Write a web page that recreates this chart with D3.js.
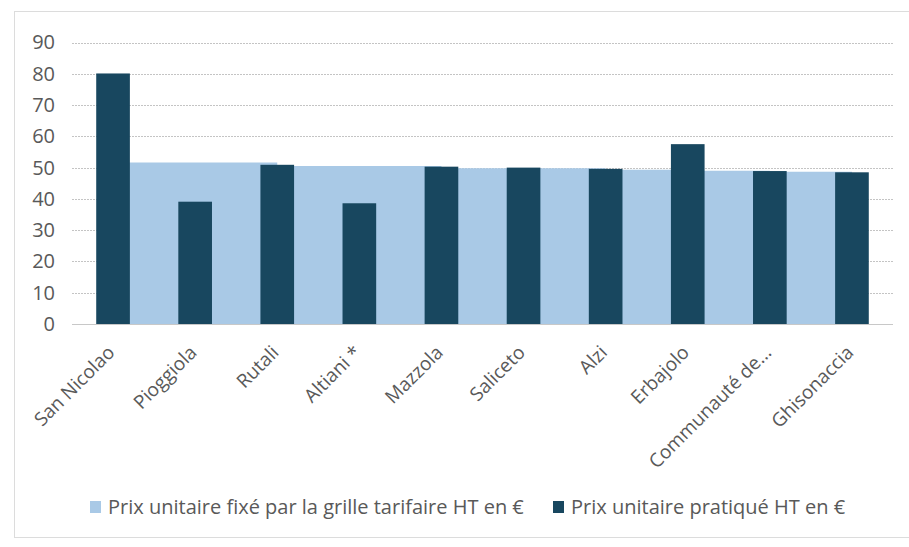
<!DOCTYPE html>
<html>
<head>
<meta charset="utf-8">
<script src="https://cdn.jsdelivr.net/npm/d3@7"></script>
<style>
  html, body { margin: 0; padding: 0; background: #fff; }
  svg { display: block; }
  text { font-family: "Open Sans", Lato, sans-serif; fill: #595959; }
</style>
</head>
<body>
<svg id="chart" width="909" height="547"></svg>
<script>
const categories = ["San Nicolao", "Pioggiola", "Rutali", "Altiani *", "Mazzola", "Saliceto", "Alzi", "Erbajolo", "Communauté de...", "Ghisonaccia"];
const prixGrille = [51.6, 51.6, 50.5, 50.5, 49.8, 49.8, 49.3, 49.0, 48.7, 48.5];
const prixPratique = [80.1, 39.1, 50.9, 38.6, 50.3, 50.0, 49.6, 57.5, 48.9, 48.5];
const yTicks = [0, 10, 20, 30, 40, 50, 60, 70, 80, 90];
const seriesNames = ["Prix unitaire fixé par la grille tarifaire HT en €", "Prix unitaire pratiqué HT en €"];

const lightColor = "#a9c9e6";
const darkColor = "#18475f";
const FONT = "'Open Sans', Lato, sans-serif";

const svg = d3.select("#chart");

// chart frame
svg.append("rect").attr("x", 14.5).attr("y", 11.5).attr("width", 900).attr("height", 526)
  .attr("fill", "none").attr("stroke", "#dcdcdc").attr("stroke-width", 1);

const x = d3.scaleBand().domain(categories).range([72, 893]).padding(0);
const y = d3.scaleLinear().domain([0, 90]).range([324, 42.5]);
const bw = x.bandwidth();
const barW = bw * 0.41;

// gridlines
svg.append("g").selectAll("line").data(yTicks.filter(d => d > 0)).join("line")
  .attr("x1", 72).attr("x2", 893)
  .attr("y1", d => Math.round(y(d)) + 0.5).attr("y2", d => Math.round(y(d)) + 0.5)
  .attr("stroke", "#c4c4c4").attr("stroke-width", 1).attr("stroke-dasharray", "2,1");

// y axis labels
const yAxis = d3.axisLeft(y).tickValues(yTicks).tickSize(0).tickPadding(0);
const gy = svg.append("g").attr("transform", "translate(55,0)").call(yAxis);
gy.select(".domain").remove();
gy.selectAll("text").attr("font-size", 20).style("fill", "#595959").style("font-family", FONT);

// light series (step area)
const area = d3.area()
  .x(d => x(d.c) + bw / 2)
  .y0(y(0))
  .y1(d => y(d.v))
  .curve(d3.curveStepAfter);
svg.append("path")
  .datum(categories.map((c, i) => ({ c, v: prixGrille[i] })))
  .attr("d", area)
  .attr("fill", lightColor);

// dark bars
svg.append("g").selectAll("rect").data(categories.map((c, i) => ({ c, v: prixPratique[i] }))).join("rect")
  .attr("x", d => x(d.c) + bw / 2 - barW / 2)
  .attr("width", barW)
  .attr("y", d => y(d.v))
  .attr("height", d => y(0) - y(d.v))
  .attr("fill", darkColor);

// baseline
svg.append("line").attr("x1", 72).attr("x2", 893).attr("y1", 324.5).attr("y2", 324.5)
  .attr("stroke", "#c8c8c8").attr("stroke-width", 1);

// x axis labels
const xAxis = d3.axisBottom(x).tickSize(0).tickPadding(0);
const gx = svg.append("g").attr("transform", "translate(0,332)").call(xAxis);
gx.select(".domain").remove();
gx.selectAll("text")
  .attr("font-size", 19)
  .style("fill", "#595959")
  .style("font-family", FONT)
  .attr("text-anchor", "end")
  .attr("dy", "0.35em")
  .attr("transform", "translate(-2,17) rotate(-45)");

// legend
const legend = svg.append("g");
const items = [
  { name: seriesNames[0], color: lightColor, x: 90 },
  { name: seriesNames[1], color: darkColor, x: 553 }
];
items.forEach(it => {
  legend.append("rect").attr("x", it.x).attr("y", 501).attr("width", 11).attr("height", 12).attr("fill", it.color);
  legend.append("text").attr("x", it.x + 18).attr("y", 514).attr("font-size", 20).style("font-family", FONT).text(it.name);
});
</script>
</body>
</html>
